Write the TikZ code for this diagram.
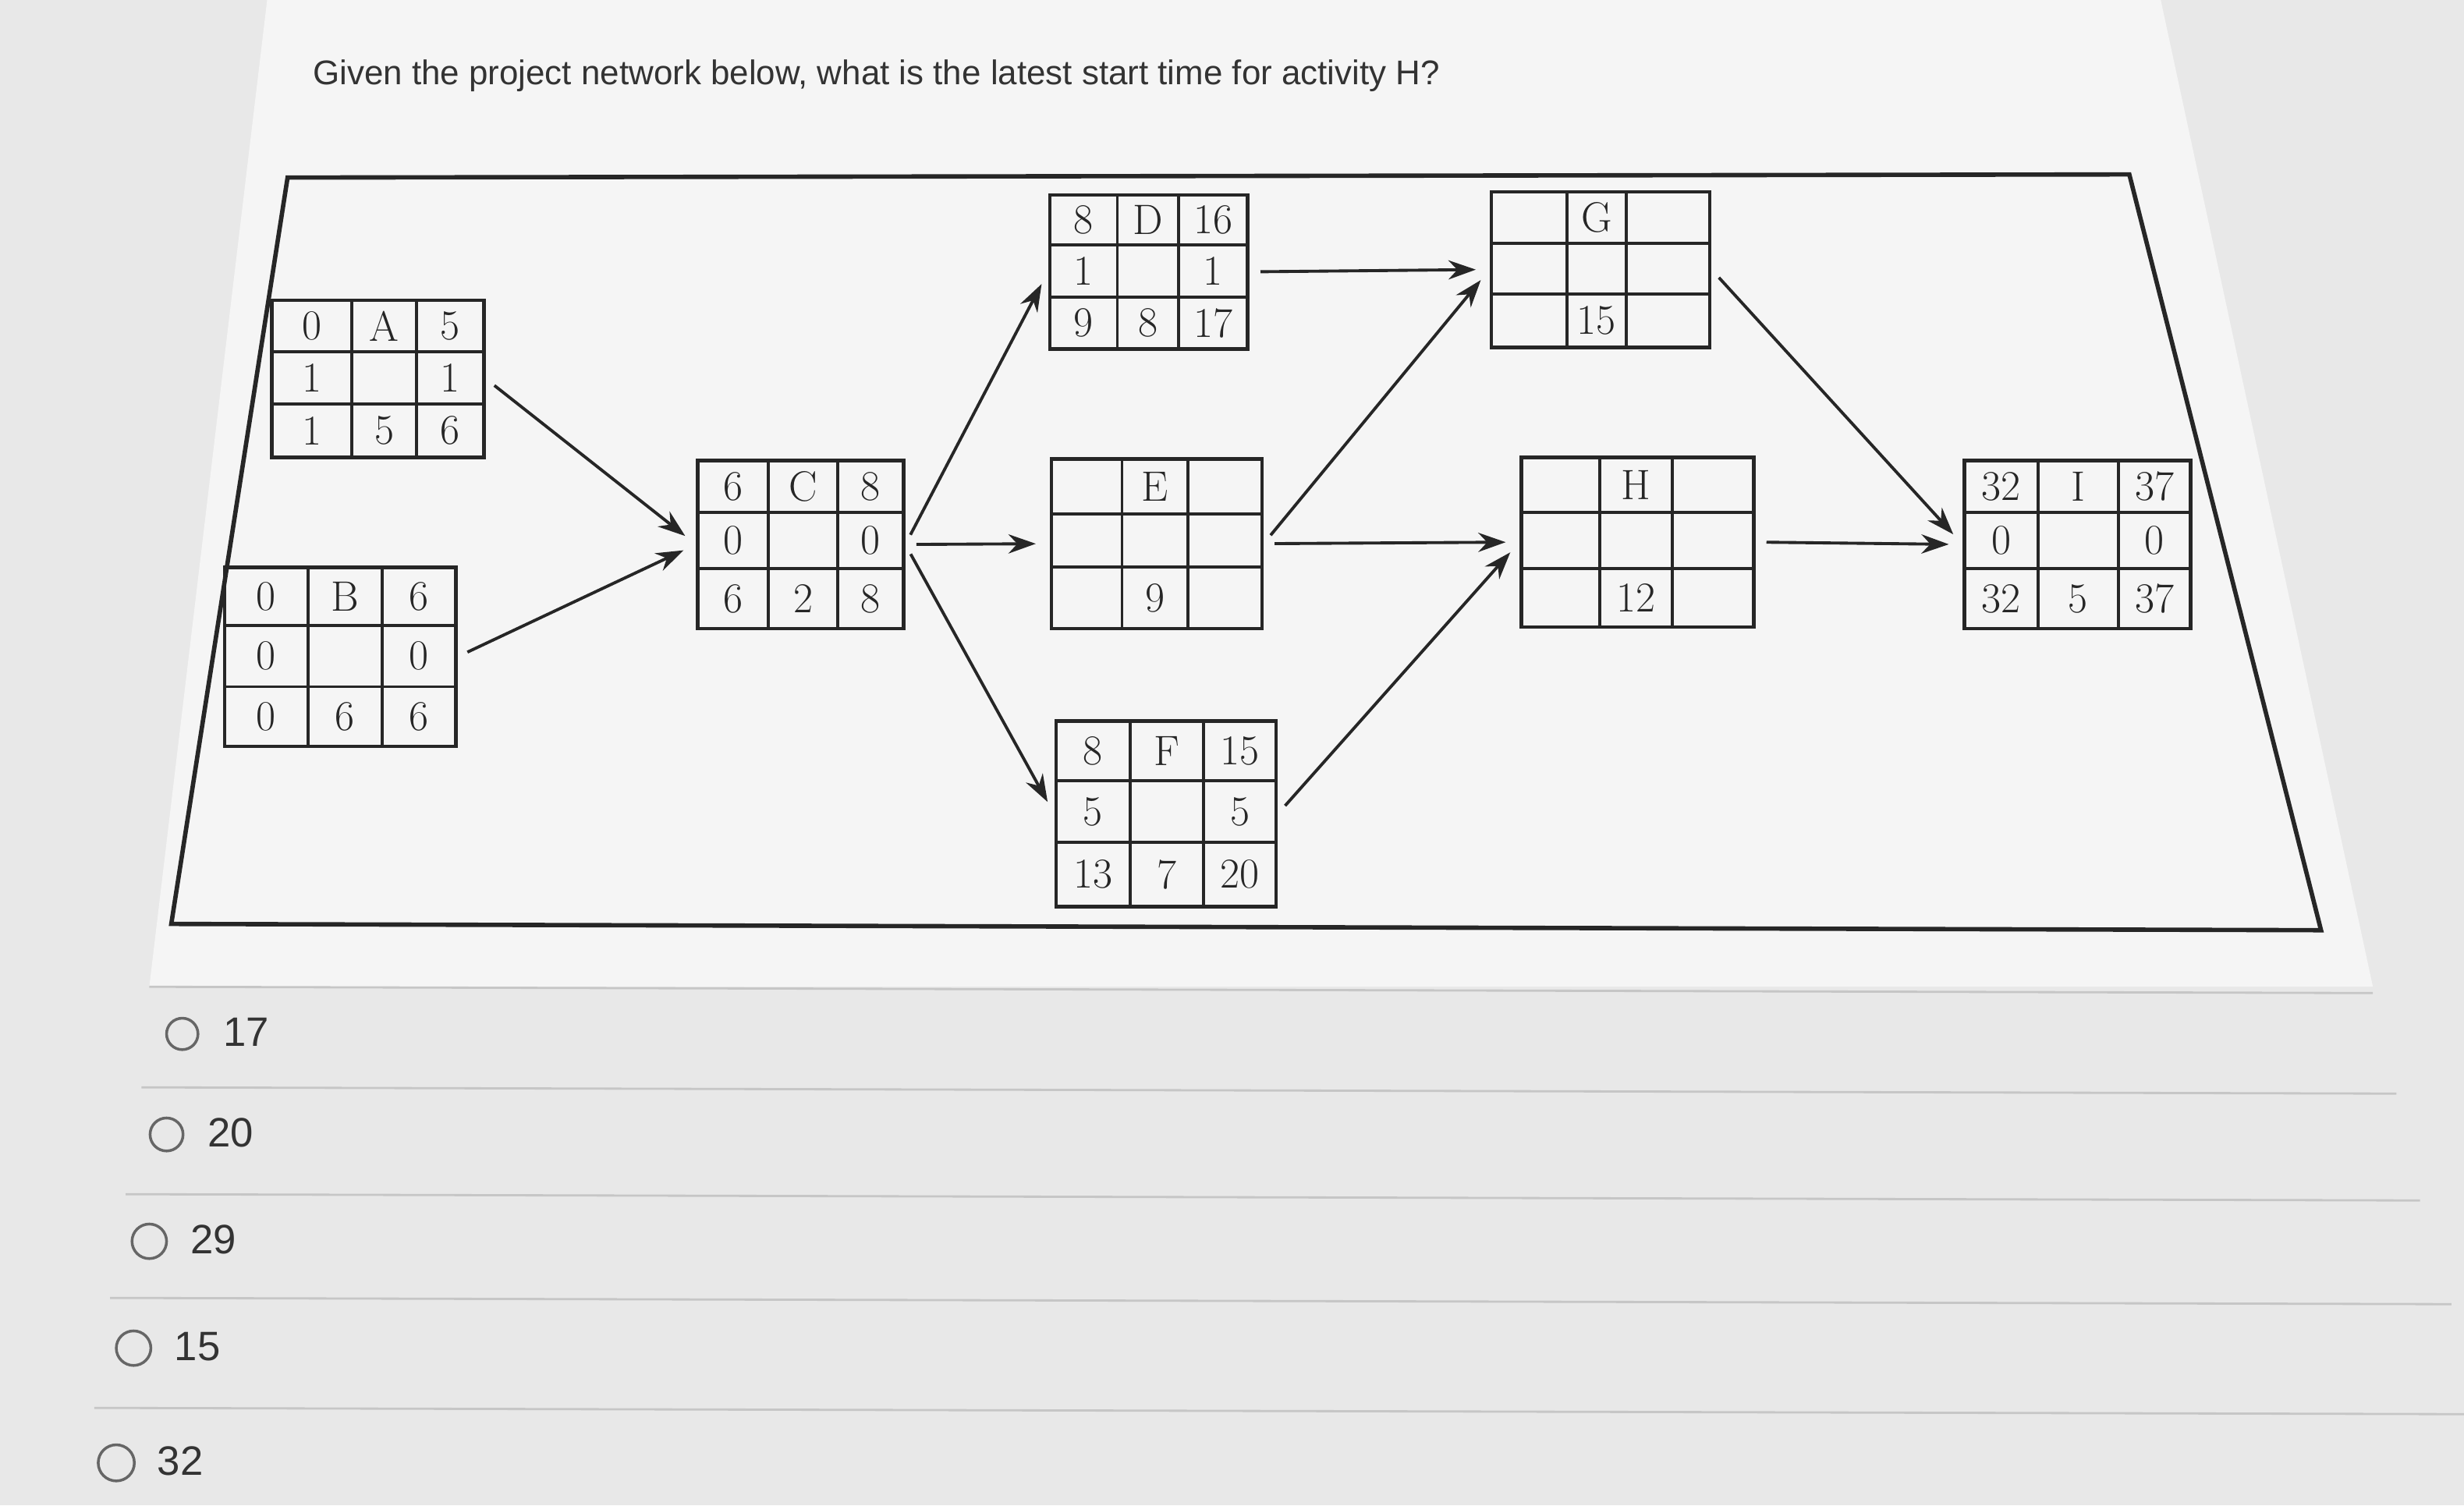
\documentclass[tikz,border=0pt]{standalone}
\usepackage{fontspec}
\newfontfamily\qfont{Liberation Sans}
\usetikzlibrary{fit,arrows.meta}
\newcommand\cellgrid[9]{%
  \def\xa{#2}\def\xb{#3}\def\xc{#4}\def\xd{#5}%
  \def\ya{#6}\def\yb{#7}\def\yc{#8}\def\yd{#9}%
  \node[gridbox, fit={(#2,#6)(#5,#9)}] (#1) {};
  \draw[gridline] (#3,#6) -- (#3,#9) (#4,#6) -- (#4,#9)
    (#2,#7) -- (#5,#7) (#2,#8) -- (#5,#8);}
\newcommand\celltxt[9]{%
  \path ({(\xa+\xb)/2},{(\ya+\yb)/2}) node[celltext]{#1}
        ({(\xb+\xc)/2},{(\ya+\yb)/2}) node[celltext]{#2}
        ({(\xc+\xd)/2},{(\ya+\yb)/2}) node[celltext]{#3}
        ({(\xa+\xb)/2},{(\yb+\yc)/2}) node[celltext]{#4}
        ({(\xb+\xc)/2},{(\yb+\yc)/2}) node[celltext]{#5}
        ({(\xc+\xd)/2},{(\yb+\yc)/2}) node[celltext]{#6}
        ({(\xa+\xb)/2},{(\yc+\yd)/2}) node[celltext]{#7}
        ({(\xb+\xc)/2},{(\yc+\yd)/2}) node[celltext]{#8}
        ({(\xc+\xd)/2},{(\yc+\yd)/2}) node[celltext]{#9};}
\begin{document}
\begin{tikzpicture}[x=0.02015cm,y=-0.02015cm,
  gridbox/.style={draw=black!85, line width=1.3pt, inner sep=0pt},
  gridline/.style={draw=black!85, line width=1.1pt},
  celltext/.style={font=\fontsize{15.5}{17}\selectfont, text=black!85},
  conn/.style={draw=black!85, line width=1.1pt, -{Stealth[length=10pt,width=7pt]}, shorten <=4pt, shorten >=5pt},
  sep/.style={draw=gray!45, line width=0.8pt},
  opt/.style={font=\qfont\fontsize{15}{18}\selectfont, text=black!80, anchor=west},
  radio/.style={draw=black!60, line width=1pt}]
\fill[gray!18] (0,0) rectangle (1568,958);
\fill[gray!8] (170,0) -- (1375,0) -- (1510,628) -- (95,628) -- cycle;
\useasboundingbox (0,0) rectangle (1568,958);
\node[anchor=west, font=\qfont\fontsize{12.5}{15}\selectfont, text=black!80] (q) at (193,48)
  {Given the project network below, what is the latest start time for activity H?};
\draw[black!85, line width=1.6pt] (183,113) -- (1355,111) -- (1477,592) -- (109,588) -- cycle;
\cellgrid{A}{173}{224}{265}{308}{191}{224}{257}{291}
\celltxt{0}{A}{5}{1}{}{1}{1}{5}{6}
\cellgrid{B}{143}{196}{243}{290}{361}{398}{437}{475}
\celltxt{0}{B}{6}{0}{}{0}{0}{6}{6}
\cellgrid{C}{444}{489}{533}{575}{293}{326}{362}{400}
\celltxt{6}{C}{8}{0}{}{0}{6}{2}{8}
\cellgrid{D}{668}{711}{750}{794}{124}{156}{189}{222}
\celltxt{8}{D}{16}{1}{}{1}{9}{8}{17}
\cellgrid{E}{669}{714}{756}{803}{292}{327}{361}{400}
\celltxt{}{E}{}{}{}{}{}{9}{}
\cellgrid{F}{672}{719}{766}{812}{459}{497}{536}{577}
\celltxt{8}{F}{15}{5}{}{5}{13}{7}{20}
\cellgrid{G}{949}{997}{1035}{1088}{122}{155}{187}{221}
\celltxt{}{G}{}{}{}{}{}{15}{}
\cellgrid{H}{968}{1018}{1064}{1116}{291}{326}{362}{399}
\celltxt{}{H}{}{}{}{}{}{12}{}
\cellgrid{I}{1250}{1297}{1348}{1394}{293}{326}{362}{400}
\celltxt{32}{I}{37}{0}{}{0}{32}{5}{37}
\draw[conn] (A.east) -- (C.west);
\draw[conn] (B.east) -- (C.west);
\draw[conn] (C.east) -- (D.west);
\draw[conn] (C.east) -- (E.west);
\draw[conn] (C.east) -- (F.west);
\draw[conn] (D.east) -- (G.west);
\draw[conn] (E.east) -- (G.west);
\draw[conn] (E.east) -- (H.west);
\draw[conn] (F.east) -- (H.west);
\draw[conn] (G.east) -- (I.west);
\draw[conn] (H.east) -- (I.west);
\draw[sep] (95,628) -- (1510,632);
\draw[sep] (90,692) -- (1525,696);
\draw[sep] (80,760) -- (1540,764);
\draw[sep] (70,826) -- (1560,830);
\draw[sep] (60,896) -- (1568,900);
\draw[radio] (116,658) circle (10);
\node[opt] (o1) at (136,657) {17};
\draw[radio] (106,722) circle (10.5);
\node[opt] (o2) at (126,721) {20};
\draw[radio] (95,790) circle (11);
\node[opt] (o3) at (115,789) {29};
\draw[radio] (85,858) circle (11);
\node[opt] (o4) at (105,857) {15};
\draw[radio] (74,931) circle (11.5);
\node[opt] (o5) at (94,930) {32};
\end{tikzpicture}
\end{document}
